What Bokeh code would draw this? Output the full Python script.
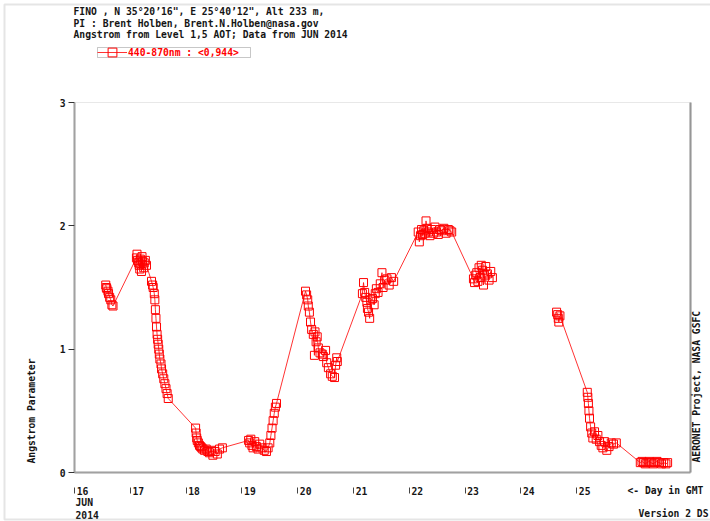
import math

from bokeh.embed import file_html
from bokeh.models import (BoxAnnotation, FixedTicker, Label, Legend, LegendItem,
                          LinearAxis, Range1d)
from bokeh.plotting import figure
from bokeh.resources import INLINE

# ---- data: Angstrom parameter 440-870 nm, FINO site, June 2014 (day of month, GMT) ----
day_of_june = [
    # 16 June
    16.56, 16.57, 16.58, 16.60, 16.61, 16.63, 16.65, 16.67, 16.69,
    # 17 June
    17.11, 17.12, 17.13, 17.15, 17.16, 17.17, 17.18, 17.19, 17.20, 17.21, 17.22, 17.24,
    17.25, 17.27, 17.29,
    17.38, 17.40, 17.41, 17.43, 17.44, 17.45, 17.46, 17.47, 17.48, 17.49, 17.50, 17.51,
    17.52, 17.53, 17.55, 17.56, 17.58, 17.60, 17.62, 17.64, 17.66, 17.68,
    # 18 June
    18.17, 18.18, 18.19, 18.20, 18.22, 18.24, 18.26, 18.28, 18.30, 18.33, 18.36, 18.39,
    18.42, 18.45, 18.48, 18.52, 18.56, 18.60, 18.65,
    # 19 June
    19.12, 19.14, 19.16, 19.18, 19.20, 19.23, 19.26, 19.29, 19.32, 19.36, 19.40, 19.44,
    19.47, 19.50, 19.52, 19.54, 19.56, 19.58, 19.60, 19.62,
    # 20 June
    20.14, 20.16, 20.18, 20.19, 20.21, 20.23, 20.25, 20.28, 20.30, 20.31, 20.33, 20.35,
    20.37, 20.40, 20.44, 20.46, 20.50, 20.52, 20.55, 20.59, 20.62, 20.66, 20.68, 20.70,
    20.71,
    # 21 June
    21.16, 21.18, 21.20, 21.22, 21.24, 21.25, 21.27, 21.29, 21.31, 21.34, 21.37, 21.39,
    21.41, 21.44, 21.48, 21.51, 21.53, 21.56, 21.60, 21.64, 21.68, 21.72,
    # 22 June
    22.16, 22.18, 22.20, 22.22, 22.24, 22.26, 22.28, 22.30, 22.32, 22.34, 22.37, 22.40,
    22.43, 22.46, 22.49, 22.52, 22.55, 22.58, 22.62, 22.66, 22.70, 22.73, 22.76,
    # 23 June
    23.15, 23.17, 23.19, 23.21, 23.23, 23.25, 23.27, 23.29, 23.31, 23.33, 23.35, 23.37,
    23.40, 23.43, 23.46, 23.49,
    # 24 June
    24.64, 24.66, 24.67, 24.68, 24.70,
    # 25 June
    25.19, 25.20, 25.21, 25.22, 25.23, 25.25, 25.27, 25.29, 25.32, 25.35, 25.38, 25.41,
    25.44, 25.47, 25.50, 25.54, 25.58, 25.62, 25.66, 25.71,
    # 26 June
    26.14, 26.17, 26.20, 26.23, 26.26, 26.30, 26.33, 26.37, 26.40, 26.44, 26.48, 26.52,
    26.56, 26.60, 26.63,
]

angstrom_440_870 = [
    1.52, 1.50, 1.49, 1.47, 1.45, 1.42, 1.40, 1.36, 1.35,
    1.74, 1.77, 1.72, 1.70, 1.68, 1.65, 1.73, 1.69, 1.63, 1.75, 1.71, 1.66,
    1.70, 1.72, 1.68,
    1.55, 1.52, 1.50, 1.45, 1.40, 1.32, 1.25, 1.18, 1.12, 1.08, 1.04, 1.00,
    0.96, 0.92, 0.88, 0.84, 0.80, 0.76, 0.72, 0.68, 0.64, 0.60,
    0.36, 0.32, 0.28, 0.26, 0.24, 0.22, 0.21, 0.20, 0.19, 0.18, 0.19, 0.17,
    0.16, 0.18, 0.14, 0.17, 0.15, 0.19, 0.20,
    0.26, 0.24, 0.27, 0.22, 0.20, 0.25, 0.21, 0.19, 0.23, 0.20, 0.18, 0.17,
    0.20, 0.24, 0.30, 0.36, 0.42, 0.48, 0.53, 0.56,
    1.47, 1.44, 1.40, 1.35, 1.30, 1.22, 1.16, 1.12, 0.95, 1.14, 1.06, 1.10,
    1.01, 0.97, 0.96, 0.94, 0.99, 0.89, 0.85, 0.80, 0.78, 0.77, 0.87, 0.93,
    0.90,
    1.45, 1.54, 1.46, 1.42, 1.38, 1.33, 1.30, 1.25, 1.40, 1.41, 1.36, 1.45,
    1.49, 1.46, 1.53, 1.62, 1.50, 1.56, 1.57, 1.52, 1.58, 1.55,
    1.95, 1.87, 1.92, 1.97, 1.93, 1.96, 1.94, 2.04, 1.98, 1.95, 1.92, 1.97,
    1.94, 1.99, 1.95, 1.93, 1.97, 1.96, 1.98, 1.94, 1.97, 1.96, 1.95,
    1.57, 1.54, 1.60, 1.62, 1.55, 1.66, 1.58, 1.68, 1.64, 1.52, 1.60, 1.67,
    1.61, 1.56, 1.63, 1.58,
    1.30, 1.28, 1.25, 1.22, 1.27,
    0.65, 0.61, 0.56, 0.50, 0.44, 0.37, 0.32, 0.28, 0.33, 0.27, 0.30, 0.25,
    0.22, 0.20, 0.25, 0.18, 0.21, 0.24, 0.23, 0.24,
    0.08, 0.09, 0.08, 0.07, 0.08, 0.09, 0.08, 0.07, 0.08, 0.09, 0.08, 0.07,
    0.08, 0.07, 0.08,
]

day_ticks = [16, 17, 18, 19, 20, 21, 22, 23, 24, 25]
day_tick_labels = ["16", "17", "18", "19", "20", "21", "22", "23", "24", "25"]
angstrom_ticks = [0, 1, 2, 3]
x_start, x_end = 16.0, 27.04
y_start, y_end = 0.0, 3.0

title_lines = [
    "FINO , N 35°20’16\", E 25°40’12\", Alt 233 m,",
    "PI : Brent Holben, Brent.N.Holben@nasa.gov",
    "Angstrom from Level 1,5 AOT; Data from JUN 2014",
]
series_label = "440-870nm : <0,944>"

# ---- styling ----
MONO = "DejaVu Sans Mono"
FS = "9.7px"
INK = "#151515"
RED = "#ff0000"
AXIS_GREY = "#9a9a9a"

# page size and the plotting box inside it (pixels from the top-left corner)
W, H = 710, 521
BOX_L, BOX_R, BOX_T, BOX_B = 74, 690, 102, 472

# the frame spans the whole page; ranges are widened so that the data box
# [x_start, x_end] x [y_start, y_end] lands on BOX_*
px_per_day = (BOX_R - BOX_L) / (x_end - x_start)
px_per_unit = (BOX_B - BOX_T) / (y_end - y_start)
x_range = Range1d(x_start - BOX_L / px_per_day, x_end + (W - BOX_R) / px_per_day)
y_range = Range1d(y_start - (H - BOX_B) / px_per_unit, y_end + BOX_T / px_per_unit)

p = figure(width=W, height=H, output_backend="svg", toolbar_location=None,
           x_range=x_range, y_range=y_range,
           min_border=0, x_axis_type=None, y_axis_type=None)
p.grid.visible = False
p.outline_line_color = None
p.background_fill_color = "white"
p.border_fill_color = "white"


def quiet(axis):
    axis.minor_tick_line_color = None
    axis.major_label_text_font = MONO
    axis.major_label_text_font_style = "bold"
    axis.major_label_text_font_size = FS
    axis.major_label_text_color = INK
    return axis


# plotting box: light top edge, heavier right edge
p.add_layout(BoxAnnotation(left=x_start, right=x_end, bottom=y_start, top=y_end,
                           fill_color=None, line_color="#b4b4b4", line_width=1))
right_edge = quiet(LinearAxis(ticker=FixedTicker(ticks=[]), fixed_location=x_end,
                              bounds=(y_start, y_end)))
right_edge.axis_line_color = "#8a8a8a"
right_edge.axis_line_width = 2
right_edge.major_tick_line_color = None
right_edge.major_label_text_color = None
p.add_layout(right_edge, "right")

# bottom axis line with day labels placed just right of their tick bars
label_shift = 8.0 / px_per_day
xaxis = quiet(LinearAxis(ticker=FixedTicker(ticks=[d + label_shift for d in day_ticks]),
                         fixed_location=y_start, bounds=(x_start, x_end)))
xaxis.major_label_overrides = {d + label_shift: s for d, s in zip(day_ticks, day_tick_labels)}
xaxis.axis_line_color = AXIS_GREY
xaxis.axis_line_width = 2
xaxis.major_tick_line_color = None
xaxis.major_tick_in = 0
xaxis.major_tick_out = 0
xaxis.major_label_standoff = 14
p.add_layout(xaxis, "below")

# the short day bars, hanging below the axis line
xbars = quiet(LinearAxis(ticker=FixedTicker(ticks=day_ticks),
                         fixed_location=y_start - 15 / px_per_unit,
                         bounds=(x_start, x_end)))
xbars.axis_line_color = None
xbars.major_tick_in = 0
xbars.major_tick_out = 6
xbars.major_tick_line_color = "#444444"
xbars.major_label_text_color = None
p.add_layout(xbars, "below")

yaxis = quiet(LinearAxis(ticker=FixedTicker(ticks=angstrom_ticks), fixed_location=x_start,
                         bounds=(y_start, y_end)))
yaxis.axis_line_color = AXIS_GREY
yaxis.axis_line_width = 2
yaxis.major_tick_in = 0
yaxis.major_tick_out = 6
yaxis.major_tick_line_color = "#333333"
yaxis.major_label_standoff = 3
p.add_layout(yaxis, "left")

# ---- series: connect consecutive points, break the line across gaps > 1 day ----
line_x, line_y = [], []
for i, (d, a) in enumerate(zip(day_of_june, angstrom_440_870)):
    if i > 0 and d - day_of_june[i - 1] > 1.0:
        line_x.append(float("nan"))
        line_y.append(float("nan"))
    line_x.append(d)
    line_y.append(a)

line_r = p.line(line_x, line_y, line_color=RED, line_width=1, line_alpha=0.8)
pts_r = p.scatter(day_of_june, angstrom_440_870, marker="square", size=8,
                  fill_color=None, line_color=RED, line_width=1)

# legend: tall glyph slot so the sample square is full size; its box is drawn separately
LEG_L, LEG_R, LEG_T, LEG_B = 97, 250, 47, 57
legend = Legend(items=[LegendItem(label=series_label, renderers=[line_r, pts_r])],
                location=(LEG_L, H - (LEG_T + LEG_B) / 2 - 11))
legend.glyph_width = 30
legend.glyph_height = 22
legend.label_height = 22
legend.label_width = 121
legend.label_standoff = 1
legend.padding = 0
legend.margin = 0
legend.spacing = 0
legend.border_line_color = None
legend.background_fill_alpha = 0
legend.label_text_font = MONO
legend.label_text_font_style = "bold"
legend.label_text_font_size = FS
legend.label_text_color = RED
legend.label_text_baseline = "middle"
p.add_layout(legend, "center")
p.add_layout(BoxAnnotation(left=LEG_L, right=LEG_R, top=H - LEG_T, bottom=H - LEG_B,
                           left_units="screen", right_units="screen",
                           top_units="screen", bottom_units="screen",
                           fill_color=None, line_color="#444444", line_width=1))


# ---- texts around the plot (page pixels, converted to screen units) ----
def put(text, cx, cy, angle=0.0, align="left", baseline="middle", color=INK):
    p.add_layout(Label(x=cx, y=H - cy, x_units="screen", y_units="screen",
                       text=text, angle=angle, text_align=align, text_baseline=baseline,
                       text_font=MONO, text_font_style="bold",
                       text_font_size=FS, text_color=color))


for k, line in enumerate(title_lines):
    put(line, 73, 11 + 11.6 * k)

put("JUN", 75, 502)
put("2014", 75, 514)
put("<- Day in GMT", 627, 490)
put("Version 2 DS", 638, 513)
put("Angstrom Parameter", 31, 463, angle=math.pi / 2)
put("AERONET Project, NASA GSFC", 696, 462, angle=math.pi / 2)

# outer page frame
p.add_layout(BoxAnnotation(left=4, right=W + 10, top=H - 4, bottom=H - 519,
                           left_units="screen", right_units="screen",
                           top_units="screen", bottom_units="screen",
                           fill_color=None, line_color="#a8a8a8", line_width=2))

open("out.html", "w").write(file_html(p, INLINE))
